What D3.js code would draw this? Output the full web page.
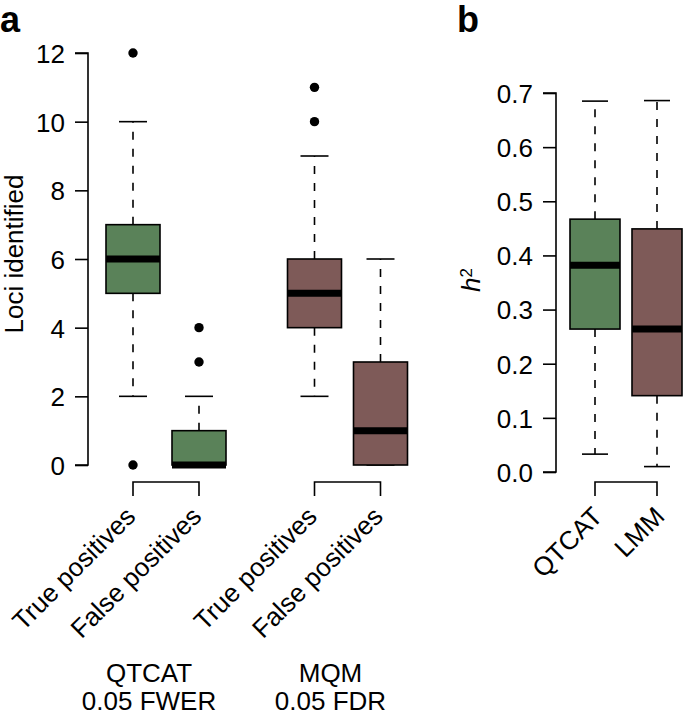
<!DOCTYPE html>
<html><head><meta charset="utf-8">
<script src="https://cdn.jsdelivr.net/npm/d3@7"></script>
<style>body{margin:0;background:#fff}svg{display:block}text{font-family:"Liberation Sans",Arial,sans-serif;fill:#000}</style>
</head><body>
<script>
// Panel a data
const catsA = ["True positives","False positives","True positives","False positives"];
const posA = [1, 2, 3.75, 4.75];
const groupA = ["QTCAT","QTCAT","MQM","MQM"];
const lowA = [2, 0, 2, 0];
const q1A = [5, 0, 4, 0];
const medA = [6, 0, 5, 1];
const q3A = [7, 1, 6, 3];
const highA = [10, 2, 9, 6];
const outA = [[12, 0], [3, 4], [10, 11], []];
const ticksA = [0, 2, 4, 6, 8, 10, 12];
const groupLabelsA = [["QTCAT","0.05 FWER"],["MQM","0.05 FDR"]];
const groupPosA = [1.5, 4.25];

// Panel b data
const catsB = ["QTCAT","LMM"];
const posB = [1, 2];
const lowB = [0.033, 0.010];
const q1B = [0.264, 0.141];
const medB = [0.382, 0.264];
const q3B = [0.467, 0.449];
const highB = [0.685, 0.686];
const ticksB = [0, 0.1, 0.2, 0.3, 0.4, 0.5, 0.6, 0.7];

const colors = {QTCAT: "#5a8259", MQM: "#7e5a58", LMM: "#7e5a58"};

const W = 685, H = 721;
const svg = d3.select("body").append("svg").attr("width", W).attr("height", H);
const FS = 26;

function drawPanel(g, opts) {
  const {x, y, pos, low, q1, med, q3, high, outs, cols, boxW, capW, ticks, fmt, axisX, labels, labDx} = opts;
  const ax = g.append("g").attr("transform", `translate(${axisX},0)`)
    .call(d3.axisLeft(y).tickValues(ticks).tickFormat(fmt).tickSize(13).tickPadding(10));
  ax.select(".domain").attr("d", `M-13,${y(ticks[0])}H0V${y(ticks[ticks.length-1])}H-13`).attr("stroke", "#000").attr("stroke-width", 1.6).attr("fill","none");
  ax.selectAll(".tick line").attr("stroke", "#000").attr("stroke-width", 1.6);
  ax.selectAll(".tick text").style("font-size", FS + "px").style("font-family", '"Liberation Sans",Arial,sans-serif').attr("fill", "#000").attr("dy", "0.36em");

  pos.forEach((p, i) => {
    const cx = x(p);
    g.append("line").attr("x1", cx).attr("x2", cx).attr("y1", y(q3[i])).attr("y2", y(high[i]))
      .attr("stroke", "#000").attr("stroke-width", 1.6).attr("stroke-dasharray", "8,9");
    g.append("line").attr("x1", cx).attr("x2", cx).attr("y1", y(q1[i])).attr("y2", y(low[i]))
      .attr("stroke", "#000").attr("stroke-width", 1.6).attr("stroke-dasharray", "8,9");
    g.append("line").attr("x1", cx - capW/2).attr("x2", cx + capW/2).attr("y1", y(high[i])).attr("y2", y(high[i]))
      .attr("stroke", "#000").attr("stroke-width", 1.6);
    g.append("line").attr("x1", cx - capW/2).attr("x2", cx + capW/2).attr("y1", y(low[i])).attr("y2", y(low[i]))
      .attr("stroke", "#000").attr("stroke-width", 1.6);
    g.append("rect").attr("x", cx - boxW/2).attr("width", boxW)
      .attr("y", y(q3[i])).attr("height", y(q1[i]) - y(q3[i]))
      .attr("fill", cols[i]).attr("stroke", "#000").attr("stroke-width", 1.6);
    g.append("line").attr("x1", cx - boxW/2).attr("x2", cx + boxW/2).attr("y1", y(med[i])).attr("y2", y(med[i]))
      .attr("stroke", "#000").attr("stroke-width", 7);
    (outs[i] || []).forEach(v => {
      g.append("circle").attr("cx", cx).attr("cy", y(v)).attr("r", 4.7).attr("fill", "#000");
    });
  });
  labels.forEach((t, i) => {
    const cx = x(pos[i]) + labDx;
    g.append("text").attr("transform", `translate(${cx},518) rotate(-45)`)
      .attr("text-anchor", "end").style("font-size", FS + "px").text(t);
  });
}

function bracket(g, x1, x2) {
  g.append("path").attr("d", `M${x1},496V482H${x2}V496`).attr("fill", "none")
    .attr("stroke", "#000").attr("stroke-width", 1.6);
}

// Panel a
const gA = svg.append("g");
const xA = d3.scaleLinear().domain([0, 1]).range([67, 133]);
const yA = d3.scaleLinear().domain([0, 12]).range([465, 53]);
drawPanel(gA, {x: xA, y: yA, pos: posA, low: lowA, q1: q1A, med: medA, q3: q3A, high: highA, outs: outA,
  cols: groupA.map(gn => colors[gn]), boxW: 54, capW: 28, ticks: ticksA, fmt: d3.format("d"), axisX: 88, labels: catsA, labDx: 4});
bracket(gA, xA(posA[0]), xA(posA[1]));
bracket(gA, xA(posA[2]), xA(posA[3]));
groupLabelsA.forEach((lines, i) => {
  const gx = xA(groupPosA[i]) - 17;
  gA.append("text").attr("x", gx).attr("y", 682).attr("text-anchor", "middle").style("font-size", FS + "px").text(lines[0]);
  gA.append("text").attr("x", gx).attr("y", 710).attr("text-anchor", "middle").style("font-size", FS + "px").text(lines[1]);
});
gA.append("text").attr("transform", `translate(23,254) rotate(-90)`)
  .attr("text-anchor", "middle").style("font-size", FS + "px").text("Loci identified");
svg.append("text").attr("x", 0).attr("y", 32).style("font-size", "36px").style("font-weight", "bold").text("a");

// Panel b
const gB = svg.append("g");
const xB = d3.scaleLinear().domain([0, 1]).range([533, 595]);
const yB = d3.scaleLinear().domain([0, 0.7]).range([472, 93]);
drawPanel(gB, {x: xB, y: yB, pos: posB, low: lowB, q1: q1B, med: medB, q3: q3B, high: highB, outs: [[], []],
  cols: catsB.map(c => colors[c]), boxW: 50, capW: 26, ticks: ticksB, fmt: d3.format(".1f"), axisX: 556, labels: catsB, labDx: 9});
bracket(gB, xB(posB[0]), xB(posB[1]));
const hl = gB.append("text").attr("transform", `translate(480,280) rotate(-90)`)
  .attr("text-anchor", "middle").style("font-size", FS + "px");
hl.append("tspan").style("font-style", "italic").text("h");
hl.append("tspan").attr("dy", "-0.45em").style("font-size", "17px").text("2");
svg.append("text").attr("x", 457).attr("y", 32).style("font-size", "36px").style("font-weight", "bold").text("b");
</script>
</body></html>
